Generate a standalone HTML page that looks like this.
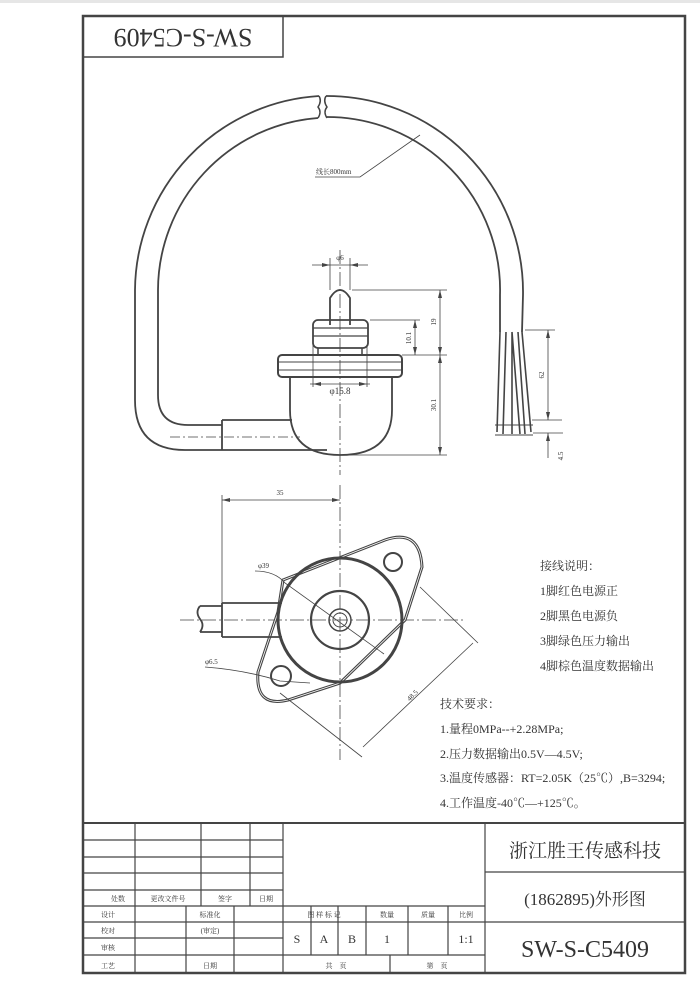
<!DOCTYPE html>
<html><head><meta charset="utf-8"><style>
html,body{margin:0;padding:0;background:#fff}
svg{display:block}
text{font-family:"Liberation Serif","Noto Serif CJK SC","Noto Sans CJK SC",serif;fill:#333}
</style></head><body>
<svg width="700" height="990" viewBox="0 0 700 990" xmlns="http://www.w3.org/2000/svg">
<rect x="0" y="0" width="700" height="3" fill="#e6e6e6"/>
<g fill="none" stroke="#444">
<rect x="83" y="16" width="602" height="957" stroke-width="2.5"/>
<rect x="83" y="16" width="200" height="41" stroke-width="1.5"/>
<!-- cable arc -->
<path d="M319,96 A196 196 0 0 0 135,290 L135,400 Q135,450 185,450 L222,450" stroke-width="1.8"/>
<path d="M318,118 A173 173 0 0 0 158,290 L158,395 Q158,425 188,425 L222,425" stroke-width="1.8"/>
<path d="M326,96 A196 196 0 0 1 523,295 L522,332" stroke-width="1.8"/>
<path d="M327,117 A173 173 0 0 1 500,295 L500,332" stroke-width="1.8"/>
<path d="M319,96 q3,5 -1,11 q4,5 0,11 M326,96 q-3,5 1,11 q-4,5 0,11" stroke-width="1.5"/>
<!-- wires -->
<path d="M500,332 L497,432 M506,332 L503,434 M512,332 L512,434 M512,332 L520,434 M518,332 L525,434 M522,332 L531,432" stroke-width="1.6"/>
<path d="M495,425 h38 M495,435 h38" stroke-width="1"/>
<path d="M525,330 h30 M532,420 h30 M533,433 h30 M548,330 v90 M548,433 v25" stroke-width="0.8"/>
<!-- side view -->
<path d="M330,325 L330,298 Q340,282 350,298 L350,325" stroke-width="1.8"/>
<rect x="313" y="320" width="55" height="28" rx="5" stroke-width="1.8"/>
<path d="M313,328 h55 M313,336 h55" stroke-width="1.2"/>
<rect x="278" y="355" width="124" height="22" rx="4" stroke-width="2"/>
<path d="M278,362 h124 M278,370 h124" stroke-width="1"/>
<path d="M318,348 v7 M362,348 v7" stroke-width="1.5"/>
<path d="M290,377 L290,410 Q290,455 340,455 Q392,455 392,410 L392,377" stroke-width="1.8"/>
<path d="M222,420 h70 M222,450 h105 M222,420 v30" stroke-width="1.8"/>
<path d="M340,250 v225" stroke-width="0.8" stroke-dasharray="14 3 2 3"/>
<path d="M170,437 h130" stroke-width="0.8" stroke-dasharray="10 3 2 3"/>
<path d="M330,258 v32 M350,258 v32 M312,265 h56" stroke-width="0.8"/>
<path d="M352,290 h95 M370,320 h50 M402,355 h45 M345,455 h102 M440,290 v165 M415,320 v35 M313,345 v42 M367,345 v42 M310,384 h60" stroke-width="0.8"/>
<!-- bottom view -->
<path d="M340,485 v275" stroke-width="0.8" stroke-dasharray="14 3 2 3"/>
<path d="M180,620 h285" stroke-width="0.8" stroke-dasharray="14 3 2 3"/>
<path d="M222,495 v110 M222,500 h118" stroke-width="0.8"/>
<path d="M283,580 L385,540 Q420,528 422,567 L405,620 L340,683 L288,700 Q255,708 258,672 L278,612 Z" stroke-width="3"/>
<path d="M283,580 L385,540 Q420,528 422,567 L405,620 L340,683 L288,700 Q255,708 258,672 L278,612 Z" stroke="#fff" stroke-width="0.8"/>
<circle cx="340" cy="620" r="62" stroke-width="3"/>
<circle cx="340" cy="620" r="29" stroke-width="2.2"/>
<circle cx="340" cy="620" r="11" stroke-width="1.5"/>
<circle cx="340" cy="620" r="7" stroke-width="1"/>
<circle cx="393" cy="562" r="9" stroke-width="2"/>
<circle cx="281" cy="676" r="10" stroke-width="2"/>
<path d="M200,606 h22 M200,632 h22 M222,603 h60 M222,637 h60 M222,603 v34 M200,606 q-5,6 0,13 q5,6 0,13" stroke-width="1.8"/>
<path d="M255,571 q20,0 30,12 L384,654" stroke-width="0.8"/>
<path d="M205,667 q40,3 75,14 L310,683" stroke-width="0.8"/>
<path d="M420,587 L478,643 M280,693 L362,757 M473,643 L363,747" stroke-width="0.8"/>
<path d="M315,177 h45 L420,135" stroke-width="0.8"/>
</g>
<!-- arrows -->
<g fill="#444">
<path d="M222,500 l8,-2 v4z M340,500 l-8,-2 v4z M330,265 l-8,-2 v4z M350,265 l8,-2 v4z M440,290 l-2,8 h4z M440,355 l-2,-8 h4z M440,355 l-2,8 h4z M440,455 l-2,-8 h4z M415,320 l-2,8 h4z M415,355 l-2,-8 h4z M548,330 l-2,8 h4z M548,420 l-2,-8 h4z M548,433 l-2,8 h4z M313,384 l8,-2 v4z M367,384 l-8,-2 v4z"/>
</g>
<text x="183" y="47" font-size="26" text-anchor="middle" transform="rotate(180 183 38)">SW-S-C5409</text>
<g font-size="7">
<text x="316" y="174">线长800mm</text>
<text x="340" y="260" text-anchor="middle">φ6</text>
<text x="340" y="394" text-anchor="middle" font-size="9">φ15.8</text>
<text x="280" y="495" text-anchor="middle">35</text>
<text x="258" y="568">φ39</text>
<text x="205" y="664">φ6.5</text>
<text transform="translate(436,322) rotate(-90)" text-anchor="middle">19</text>
<text transform="translate(436,405) rotate(-90)" text-anchor="middle">30.1</text>
<text transform="translate(411,338) rotate(-90)" text-anchor="middle">10.1</text>
<text transform="translate(544,375) rotate(-90)" text-anchor="middle">62</text>
<text transform="translate(563,456) rotate(-90)" text-anchor="middle">4.5</text>
<text transform="translate(414,697) rotate(-45)" text-anchor="middle">48.5</text>
</g>
<g font-size="12">
<text x="540" y="570">接线说明：</text>
<text x="540" y="595">1脚红色电源正</text>
<text x="540" y="620">2脚黑色电源负</text>
<text x="540" y="645">3脚绿色压力输出</text>
<text x="540" y="670">4脚棕色温度数据输出</text>
<text x="440" y="708">技术要求：</text>
<text x="440" y="733">1.量程0MPa--+2.28MPa;</text>
<text x="440" y="758">2.压力数据输出0.5V—4.5V;</text>
<text x="440" y="782">3.温度传感器：RT=2.05K（25℃）,B=3294;</text>
<text x="440" y="807">4.工作温度-40℃—+125℃。</text>
</g>
<!-- title block -->
<g fill="none" stroke="#444" stroke-width="1.2">
<path d="M83,823 h602" stroke-width="2"/>
<path d="M83,840 h200 M83,857 h200 M83,873 h200 M83,890 h200 M83,906 h402 M83,922 h200 M83,938 h200 M83,955 h200 M283,922 h202 M283,955 h202"/>
<path d="M485,872 h200 M485,922 h200"/>
<path d="M135,823 v150 M201,823 v83 M250,823 v83 M283,823 v150 M485,823 v150" />
<path d="M186,906 v67 M234,906 v67"/>
<path d="M311,906 v49 M338,906 v49 M366,906 v49 M408,906 v49 M448,906 v49 M390,955 v18"/>
</g>
<g font-size="7" text-anchor="middle">
<text x="118" y="901">处数</text><text x="168" y="901">更改文件号</text><text x="225" y="901">签字</text><text x="266" y="901">日期</text>
<text x="108" y="917">设计</text><text x="210" y="917">标准化</text>
<text x="108" y="933">校对</text><text x="210" y="933">(审定)</text>
<text x="108" y="950">审核</text>
<text x="108" y="968">工艺</text><text x="210" y="968">日期</text>
<text x="324" y="917">图 样 标 记</text><text x="387" y="917">数量</text><text x="428" y="917">质量</text><text x="466" y="917">比例</text>
<text x="336" y="968">共　页</text><text x="437" y="968">第　页</text>
</g>
<g font-size="12" text-anchor="middle">
<text x="297" y="943">S</text><text x="324" y="943">A</text><text x="352" y="943">B</text><text x="387" y="943">1</text><text x="466" y="943">1:1</text>
</g>
<text x="585" y="857" font-size="19" text-anchor="middle">浙江胜王传感科技</text>
<text x="585" y="905" font-size="17" text-anchor="middle">(1862895)外形图</text>
<text x="585" y="957" font-size="24" text-anchor="middle">SW-S-C5409</text>
</svg>
</body></html>
